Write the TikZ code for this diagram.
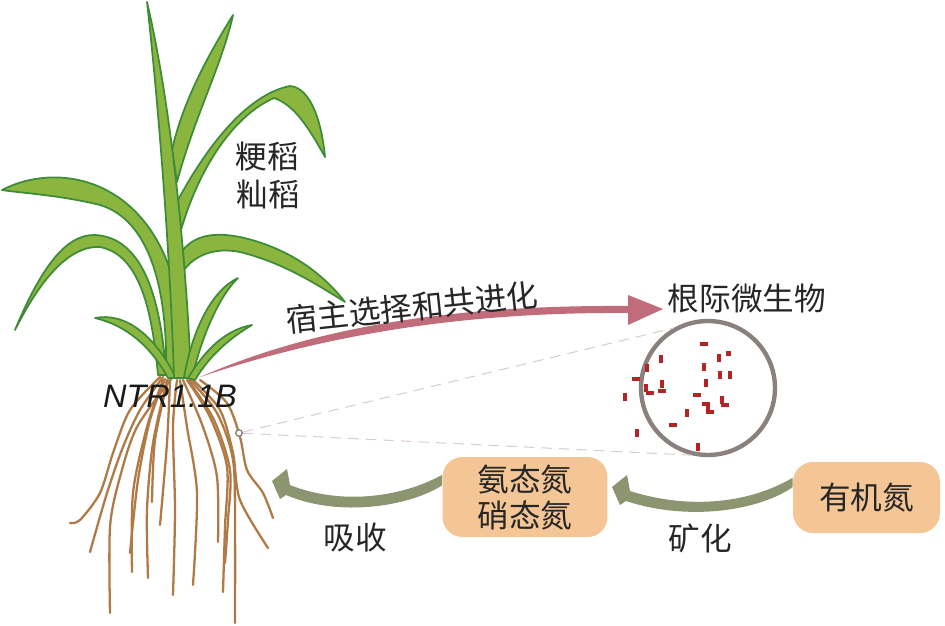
\documentclass[tikz,border=0pt]{standalone}
\usepackage{fontspec}
\newfontfamily\cjk{Noto Sans CJK SC}
\newfontfamily\arialfont{Liberation Sans}
\definecolor{leafgreen}{RGB}{138,182,64}
\definecolor{leafedge}{RGB}{62,140,56}
\definecolor{rootbrown}{RGB}{176,122,70}
\definecolor{hostpink}{RGB}{193,108,122}
\definecolor{cycleolive}{RGB}{141,148,112}
\definecolor{boxpeach}{RGB}{244,198,150}
\definecolor{ringgray}{RGB}{138,128,126}
\definecolor{dotred}{RGB}{180,36,36}
\definecolor{dashpink}{RGB}{220,204,204}
\begin{document}
\begin{tikzpicture}[x=0.02cm, y=-0.02cm,
  leaf/.style={fill=leafgreen, draw=leafedge, line width=1pt, line join=round},
  root/.style={draw=rootbrown, line width=1.3pt, line cap=round},
  cntext/.style={font=\cjk\fontsize{18pt}{20.5pt}\selectfont, text=black!85, inner sep=0pt, align=center},
  nbox/.style={cntext, fill=boxpeach, rounded corners=0.4cm},
  dashline/.style={draw=dashpink, line width=0.6pt, dash pattern=on 6pt off 4pt}]
\useasboundingbox (0,0) rectangle (945,625);
% Roots
\draw[root] plot[smooth] coordinates {(160,377) (130,410) (113,453) (100,493) (80,520) (70,523)};
\draw[root] plot[smooth] coordinates {(163,377) (140,410) (123,447) (107,493) (90,552)};
\draw[root] plot[smooth] coordinates {(172,378) (137,427) (120,477) (110,527) (110,613)};
\draw[root] plot[smooth] coordinates {(165,379) (150,420) (138,480) (130,553)};
\draw[root] plot[smooth] coordinates {(163,380) (147,427) (133,493) (132,572)};
\draw[root] plot[smooth] coordinates {(167,380) (153,443) (147,510) (148,578)};
\draw[root] plot[smooth] coordinates {(168,380) (155,440) (152,502)};
\draw[root] plot[smooth] coordinates {(170,380) (167,443) (160,525)};
\draw[root] plot[smooth] coordinates {(177,380) (173,427) (175,510) (173,595)};
\draw[root] plot[smooth] coordinates {(180,380) (187,427) (197,493) (193,585)};
\draw[root] plot[smooth] coordinates {(183,380) (203,427) (217,477) (218,542)};
\draw[root] plot[smooth] coordinates {(187,380) (210,417) (227,467) (225,527) (223,592)};
\draw[root] plot[smooth] coordinates {(188,380) (214,420) (230,470) (228,520) (225,563)};
\draw[root] plot[smooth] coordinates {(190,380) (217,413) (233,460) (235,527) (235,623)};
\draw[root] plot[smooth] coordinates {(193,380) (220,410) (233,453) (240,500) (268,548)};
\draw[root] plot[smooth] coordinates {(200,380) (227,403) (240,437) (247,470) (263,493) (273,518)};
% Leaves
\draw[leaf] (15,330) .. controls (40,270) and (65,234) .. (95,235) .. controls (135,237) and (160,280) .. (166,375)
  -- (158,375) .. controls (152,310) and (140,255) .. (100,247) .. controls (65,245) and (35,290) .. (15,330) -- cycle;
\draw[leaf] (2,190) .. controls (60,160) and (150,180) .. (176,290) -- (182,375) -- (166,375)
  .. controls (168,290) and (150,220) .. (100,205) .. controls (60,195) and (20,193) .. (2,190) -- cycle;
\draw[leaf] (95,318) .. controls (125,312) and (155,335) .. (176,378) -- (168,378) .. controls (150,345) and (125,325) .. (95,318) -- cycle;
\draw[leaf] (183,250) .. controls (195,235) and (215,232) .. (240,237) .. controls (285,247) and (320,270) .. (345,302)
  .. controls (310,280) and (280,262) .. (240,252) .. controls (215,247) and (195,255) .. (184,270) -- cycle;
\draw[leaf] (178,200) .. controls (205,150) and (245,95) .. (290,86) .. controls (312,88) and (322,125) .. (325,157)
  .. controls (310,130) and (295,105) .. (274,98) .. controls (235,115) and (200,165) .. (181,230) -- cycle;
\draw[leaf] (172,150) .. controls (182,105) and (205,60) .. (233,15) .. controls (222,65) and (195,115) .. (177,182) -- cycle;
\draw[leaf] (174,378) .. controls (170,250) and (158,100) .. (147,2) .. controls (170,100) and (186,250) .. (191,378) -- cycle;
\draw[leaf] (184,378) .. controls (192,330) and (212,290) .. (238,278) .. controls (220,295) and (202,335) .. (192,378) -- cycle;
\draw[leaf] (188,378) .. controls (205,350) and (225,330) .. (252,325) .. controls (230,338) and (210,355) .. (195,380) -- cycle;
% Labels on the plant
\node[cntext] (japonica) at (267,157) {粳稻};
\node[cntext] (indica) at (268,194) {籼稻};
\node[font=\arialfont\itshape\fontsize{18.5pt}{20pt}\selectfont, text=black!90, inner sep=0pt] (gene) at (170,396) {NTR1.1B};
% Host selection
\coordinate (plantbase) at (200,377);
\fill[hostpink] (plantbase) .. controls (330,320) and (480,305) .. (628,306) -- (628,295) -- (663,309) -- (628,325)
  -- (628,313) .. controls (480,312) and (340,330) .. (plantbase) -- cycle;
\node[cntext, rotate=6] (hostsel) at (412,307) {宿主选择和共进化};
% Rhizosphere microbes
\node[cntext] (microbe) at (747,299) {根际微生物};
\node[circle, draw=ringgray, line width=2.5pt, minimum size=2.68cm, inner sep=0pt] (rhizo) at (708,388) {};
\node[circle, draw=ringgray, fill=white, line width=0.8pt, minimum size=0.13cm, inner sep=0pt] (probe) at (239,433) {};
\draw[dashline] (probe) -- (rhizo.120);
\draw[dashline] (probe) -- (rhizo.256);
\foreach \x/\y in {704/344, 636/379, 697/395, 673/425, 650/393, 662/391, 706/404, 710/412, 725/405}
  \fill[dotred] (\x-4,\y-1.8) rectangle (\x+4,\y+1.8);
\foreach \x/\y in {661/359, 719/358, 647/368, 704/367, 720/375, 730/375, 706/383, 625/397, 687/413, 637/433, 698/447, 646/388, 662/384, 708/408, 722/400}
  \fill[dotred] (\x-1.8,\y-4) rectangle (\x+1.8,\y+4);
\fill[dotred] (725.5,350.5) rectangle (730.5,355.5);
% Nitrogen cycle
\node[nbox, minimum width=3.3cm, minimum height=1.6cm] (nitro) at (525,497) {氨态氮\\硝态氮};
\node[nbox, minimum width=2.94cm, minimum height=1.42cm] (orgn) at (866.5,497.5) {有机氮};
\coordinate (uptake) at (272,481);
\coordinate (miner) at (612,487);
\fill[cycleolive] (nitro.165) .. controls (400,498) and (340,505) .. (290,485) -- (287,469) -- (uptake) -- (280,499)
  -- (286,495) .. controls (340,518) and (410,506) .. (nitro.172) -- cycle;
\fill[cycleolive] (orgn.165) .. controls (750,503) and (690,510) .. (630,491) -- (627,475) -- (miner) -- (620,505)
  -- (626,501) .. controls (690,522) and (760,510) .. (orgn.172) -- cycle;
\node[cntext] (uptaketxt) at (355,537) {吸收};
\node[cntext] (minertxt) at (700,538) {矿化};
\end{tikzpicture}
\end{document}
